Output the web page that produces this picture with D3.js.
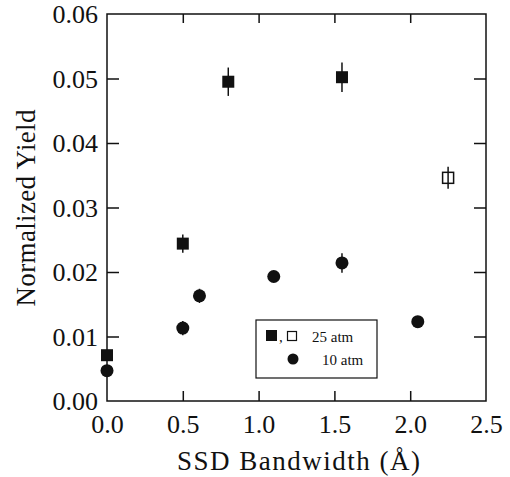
<!DOCTYPE html>
<html>
<head>
<meta charset="utf-8">
<script src="https://cdn.jsdelivr.net/npm/d3@7"></script>
<style>
  body { margin: 0; background: #fff; }
</style>
</head>
<body>
<script>
// data
var xTicks = [0.0, 0.5, 1.0, 1.5, 2.0, 2.5];
var yTicks = [0.00, 0.01, 0.02, 0.03, 0.04, 0.05, 0.06];

// 25 atm, filled squares
var x25 = [0.0, 0.5, 0.8, 1.55];
var y25 = [0.0071, 0.0244, 0.0495, 0.0502];
var e25 = [0.0008, 0.0014, 0.0022, 0.0023];

// 25 atm, open square
var x25open = [2.25];
var y25open = [0.0346];
var e25open = [0.0017];

// 10 atm, circles
var x10 = [0.0, 0.5, 0.61, 1.1, 1.55, 2.05];
var y10 = [0.0047, 0.0113, 0.0163, 0.0193, 0.0214, 0.0123];
var e10 = [0.0006, 0.0011, 0.0011, 0.0008, 0.0015, 0.0007];

var W = 510, H = 477;
var margin = {top: 14, right: 24, bottom: 76, left: 107};
var width = W - margin.left - margin.right;
var height = H - margin.top - margin.bottom;
var ink = "#111";
var serif = "'Liberation Serif', 'Times New Roman', Times, serif";

var svg = d3.select("body").append("svg")
  .attr("width", W)
  .attr("height", H)
  .style("font-family", serif);

var g = svg.append("g")
  .attr("transform", "translate(" + margin.left + "," + margin.top + ")");

var x = d3.scaleLinear().domain([0, 2.5]).range([0, width]);
var y = d3.scaleLinear().domain([0, 0.06]).range([height, 0]);

// axes, ticks pointing in
function styleAxis(sel) {
  sel.attr("font-family", null);
  sel.select(".domain").remove();
  sel.selectAll(".tick line").attr("stroke", ink).attr("stroke-width", 1.5);
  sel.selectAll("text")
    .style("font-family", serif)
    .style("font-size", "26px")
    .attr("fill", ink);
}

g.append("g")
  .attr("transform", "translate(0," + height + ")")
  .call(d3.axisBottom(x).tickValues(xTicks).tickFormat(d3.format(".1f")).tickSizeInner(-10).tickPadding(14))
  .call(styleAxis)
  .call(function (s) { s.selectAll(".tick").filter(function (d) { return d === 0 || d === 2.5; }).select("line").remove(); });

g.append("g")
  .call(d3.axisLeft(y).tickValues(yTicks).tickFormat(d3.format(".2f")).tickSizeInner(-12).tickPadding(9))
  .call(styleAxis)
  .call(function (s) {
    s.selectAll(".tick").filter(function (d) { return d === 0 || d === 0.06; }).select("line").remove();
    s.selectAll("text").attr("dy", "0.34em");
  });

g.append("g")
  .call(d3.axisTop(x).tickValues(xTicks.slice(1, -1)).tickFormat("").tickSizeInner(-9))
  .call(styleAxis);

g.append("g")
  .attr("transform", "translate(" + width + ",0)")
  .call(d3.axisRight(y).tickValues(yTicks.slice(1, -1)).tickFormat("").tickSizeInner(-12))
  .call(styleAxis);

// frame
g.append("rect")
  .attr("width", width)
  .attr("height", height)
  .attr("fill", "none")
  .attr("stroke", ink)
  .attr("stroke-width", 1.5);

// error bars
function errBars(xs, ys, es) {
  g.append("g").selectAll("line")
    .data(xs.map(function (v, i) { return {x: v, y: ys[i], e: es[i]}; }))
    .join("line")
    .attr("x1", function (d) { return x(d.x); })
    .attr("x2", function (d) { return x(d.x); })
    .attr("y1", function (d) { return y(d.y - d.e); })
    .attr("y2", function (d) { return y(d.y + d.e); })
    .attr("stroke", ink)
    .attr("stroke-width", 1.5);
}
errBars(x25, y25, e25);
errBars(x10, y10, e10);

var sq = 12;

g.append("g").selectAll("rect")
  .data(x25.map(function (v, i) { return [v, y25[i]]; }))
  .join("rect")
  .attr("x", function (d) { return x(d[0]) - sq / 2; })
  .attr("y", function (d) { return y(d[1]) - sq / 2; })
  .attr("width", sq)
  .attr("height", sq)
  .attr("fill", ink);

g.append("g").selectAll("circle")
  .data(x10.map(function (v, i) { return [v, y10[i]]; }))
  .join("circle")
  .attr("cx", function (d) { return x(d[0]); })
  .attr("cy", function (d) { return y(d[1]); })
  .attr("r", 6.5)
  .attr("fill", ink);

g.append("g").selectAll("rect")
  .data(x25open.map(function (v, i) { return [v, y25open[i]]; }))
  .join("rect")
  .attr("x", function (d) { return x(d[0]) - 5.5; })
  .attr("y", function (d) { return y(d[1]) - 5.5; })
  .attr("width", 11)
  .attr("height", 11)
  .attr("fill", "#fff")
  .attr("stroke", ink)
  .attr("stroke-width", 1.5);
errBars(x25open, y25open, e25open);

// axis titles
svg.append("text")
  .attr("x", margin.left + width / 2 + 2)
  .attr("y", 470)
  .attr("text-anchor", "middle")
  .attr("textLength", 243)
  .attr("fill", ink)
  .style("font-size", "27px")
  .text("SSD Bandwidth (Å)");

svg.append("text")
  .attr("transform", "translate(35," + 208 + ") rotate(-90)")
  .attr("text-anchor", "middle")
  .attr("textLength", 197)
  .attr("fill", ink)
  .style("font-size", "27px")
  .text("Normalized Yield");

// legend
var lg = svg.append("g").attr("transform", "translate(256,320)");
lg.append("rect")
  .attr("width", 121)
  .attr("height", 58)
  .attr("fill", "#fff")
  .attr("stroke", ink)
  .attr("stroke-width", 1.2);
lg.append("rect").attr("x", 10).attr("y", 10).attr("width", 11).attr("height", 11).attr("fill", ink);
lg.append("text").attr("x", 23).attr("y", 22).attr("fill", ink).style("font-size", "15px").text(",");
lg.append("rect").attr("x", 31.5).attr("y", 11.5).attr("width", 9).attr("height", 9)
  .attr("fill", "#fff").attr("stroke", ink).attr("stroke-width", 1.2);
lg.append("text").attr("x", 56).attr("y", 22).attr("fill", ink).style("font-size", "15px").text("25 atm");
lg.append("circle").attr("cx", 37).attr("cy", 39).attr("r", 5.5).attr("fill", ink);
lg.append("text").attr("x", 66).attr("y", 45).attr("fill", ink).style("font-size", "15px").text("10 atm");
</script>
</body>
</html>
